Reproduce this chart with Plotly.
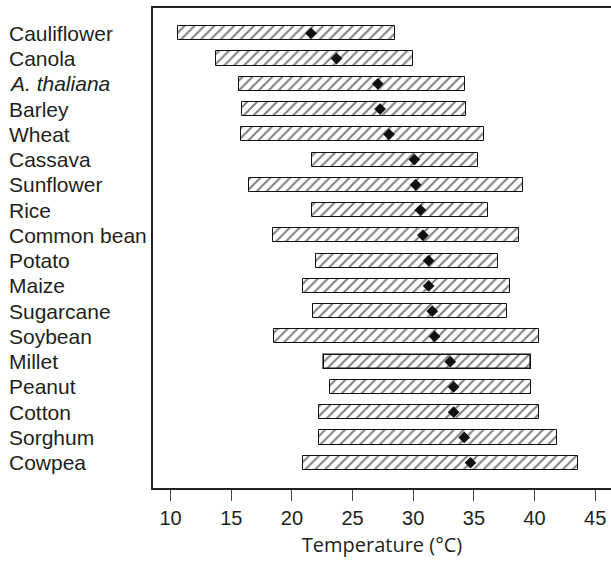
import plotly.graph_objects as go

crops = ["Cauliflower", "Canola", "<i>A. thaliana</i>", "Barley", "Wheat", "Cassava",
         "Sunflower", "Rice", "Common bean", "Potato", "Maize", "Sugarcane",
         "Soybean", "Millet", "Peanut", "Cotton", "Sorghum", "Cowpea"]
t_min = [10.65, 13.73, 15.65, 15.87, 15.79, 21.68, 16.5, 21.68, 18.42, 22.0,
         20.88, 21.76, 18.5, 22.61, 23.15, 22.25, 22.25, 20.94]
t_max = [28.53, 29.98, 34.26, 34.37, 35.85, 35.33, 39.08, 36.2, 38.75, 37.0,
         37.98, 37.71, 40.4, 39.71, 39.71, 40.34, 41.82, 43.58]
t_opt = [21.57, 23.68, 27.08, 27.27, 28.0, 30.09, 30.2, 30.59, 30.8, 31.27,
         31.27, 31.57, 31.76, 33.05, 33.33, 33.33, 34.2, 34.72]
x_ticks = [10, 15, 20, 25, 30, 35, 40, 45]

idx = list(range(len(crops)))
widths = [hi - lo for lo, hi in zip(t_min, t_max)]
line_w = [1.6 if c == "Millet" else 1.0 for c in crops]

fig = go.Figure()
fig.add_trace(go.Bar(
    y=idx, x=widths, base=t_min, orientation="h", width=0.56,
    marker=dict(color="white",
                line=dict(color="#111", width=line_w),
                pattern=dict(shape="/", fgcolor="#000", bgcolor="white",
                             size=7, solidity=0.28)),
    showlegend=False, hoverinfo="skip"))
fig.add_trace(go.Scatter(
    y=idx, x=t_opt, mode="markers",
    marker=dict(symbol="diamond", size=9, color="#111"),
    showlegend=False))

for i, c in enumerate(crops):
    fig.add_annotation(x=0, xref="paper", y=i, yref="y", text=c,
                       xanchor="left", xshift=-146, showarrow=False,
                       font=dict(family="Liberation Sans, Arial", size=21, color="#231f20"))

fig.update_layout(
    width=611, height=561,
    margin=dict(l=153, r=0, t=8, b=73, autoexpand=False),
    plot_bgcolor="white", paper_bgcolor="white",
    bargap=0,
    xaxis=dict(range=[8.55, 46.3], tickvals=x_ticks, ticks="outside", ticklen=11,
               tickwidth=1, tickcolor="#444", showgrid=False, zeroline=False,
               automargin=False,
               showline=True, linecolor="#231f20", linewidth=2, mirror=True,
               tickfont=dict(family="Liberation Sans, Arial", size=20, color="#231f20"),
               title=dict(text="Temperature (°C)", standoff=10,
                          font=dict(family="Open Sans", size=20, color="#231f20"))),
    yaxis=dict(range=[18.0, -1.0], showticklabels=False, ticks="", showgrid=False,
               automargin=False,
               zeroline=False, showline=True, linecolor="#231f20", linewidth=2),
)

fig.write_html("out.html", config={"displayModeBar": False},
               post_script="document.body.style.margin='0';")
